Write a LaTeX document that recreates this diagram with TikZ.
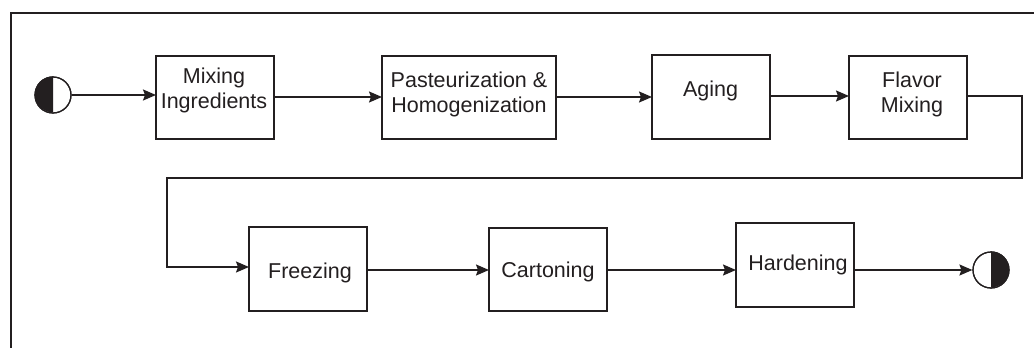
\documentclass[tikz,border=0pt]{standalone}
\usepackage{fontspec}
\setmainfont{Liberation Sans}
\usetikzlibrary{arrows.meta}
\definecolor{dk}{HTML}{231F20}
\tikzset{
  stepbox/.style={draw=dk, line width=2pt, minimum height=83pt, inner sep=0pt, outer sep=0pt},
  lbl/.style={align=center, inner sep=0pt, text=dk, font=\fontsize{21.5}{25}\selectfont},
  flow/.style={draw=dk, line width=1.6pt, -{Stealth[length=13pt,width=11pt,inset=2pt]}},
  endpt/.style={circle, draw=dk, line width=1.2pt, minimum size=36pt, inner sep=0pt},
}
\begin{document}
\begin{tikzpicture}[x=1pt,y=-1pt]
\useasboundingbox (0,0) rectangle (1034,348);
\fill[white] (0,0) rectangle (1034,348);
% frame
\draw[dk, line width=2.6pt] (11,360) -- (11,13) -- (1050,13);
% boxes
\node[stepbox, minimum width=118pt] (b1) at (215,97.5) {};
\node[stepbox, minimum width=174pt] (b2) at (469,97.5) {};
\node[stepbox, minimum width=118pt, minimum height=84pt] (b3) at (711,97) {};
\node[stepbox, minimum width=118pt] (b4) at (908,97.5) {};
\node[stepbox, minimum width=118pt, minimum height=84pt] (b5) at (308,269) {};
\node[stepbox, minimum width=118pt] (b6) at (548,269.5) {};
\node[stepbox, minimum width=118pt, minimum height=84pt] (b7) at (795,265) {};
% labels
\node[lbl] (t1) at (214,90) {Mixing\\Ingredients};
\node[lbl] (t2) at (469,94) {Pasteurization \&\\Homogenization};
\node[lbl] (t3) at (710.5,90.5) {Aging};
\node[lbl] (t4) at (912,94) {Flavor\\Mixing};
\node[lbl] (t5) at (310,272.5) {Freezing};
\node[lbl] (t6) at (548,271.5) {Cartoning};
\node[lbl] (t7) at (798,264.5) {Hardening};
% start / end
\node[endpt] (s) at (53,95) {};
\fill[dk] (s.north) arc[start angle=90,end angle=270,radius=18pt] -- cycle;
\node[endpt] at (s) {};
\node[endpt] (e) at (991,270) {};
\fill[dk] (e.north) arc[start angle=90,end angle=-90,radius=18pt] -- cycle;
\node[endpt] at (e) {};
% connectors
\coordinate (c1) at (1022,178);
\coordinate (c2) at (167,178);
\draw[flow] (s.east) -- (s.east -| b1.west);
\draw[flow] (b1.east |- 0,97) -- (b2.west |- 0,97);
\draw[flow] (b2.east |- 0,97) -- (b3.west |- 0,97);
\draw[flow] (b3.east |- 0,96) -- (b4.west |- 0,96);
\draw[flow] (b4.east |- 0,96) -| (c1) -- (c2) |- (b5.west |- 0,267);
\draw[flow] (b5.east |- 0,270) -- (b6.west |- 0,270);
\draw[flow] (b6.east |- 0,270) -- (b7.west |- 0,270);
\draw[flow] (b7.east |- 0,270) -- (e.west);
\end{tikzpicture}
\end{document}
